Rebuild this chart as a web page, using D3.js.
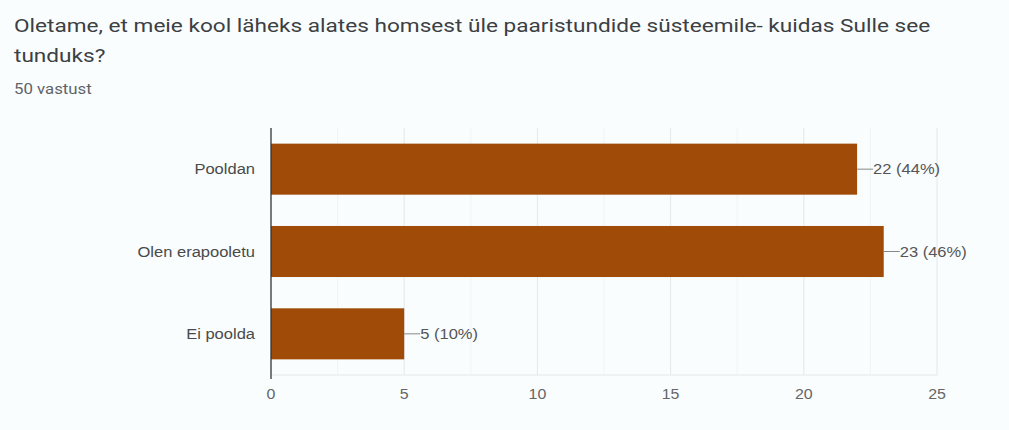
<!DOCTYPE html>
<html>
<head>
<meta charset="utf-8">
<script src="https://cdn.jsdelivr.net/npm/d3@7"></script>
<style>
  html, body { margin: 0; padding: 0; background: #f9fdfe; }
  svg { display: block; }
</style>
</head>
<body>
<div id="chart"></div>
<script>
const width = 1009,
      height = 430,
      bar_color = '#a04b08',
      bg_color = '#f9fdfe',
      label_font = 'Arial, "Liberation Sans", sans-serif',
      label_stretch = 1.14

const title_lines = ['Oletame, et meie kool läheks alates homsest üle paaristundide süsteemile- kuidas Sulle see', 'tunduks?']
const subtitle = '50 vastust'
const categories = ['Pooldan', 'Olen erapooletu', 'Ei poolda']
const counts = [22, 23, 5]
const percents = ['44%', '46%', '10%']
const x_ticks = [0, 5, 10, 15, 20, 25]
const minor_ticks = [2.5, 7.5, 12.5, 17.5, 22.5]

const margin = {left: 271, right: 72, top: 128, bottom: 55}

const svg = d3.select('#chart')
  .append('svg')
  .attr('width', width)
  .attr('height', height)

svg.append('rect')
  .attr('width', width)
  .attr('height', height)
  .attr('fill', bg_color)

// text stretched horizontally, like the screenshot
function stretched_text(parent, x, y, str, sx) {
  return parent.append('g')
    .attr('transform', `translate(${x},${y}) scale(${sx},1)`)
    .append('text')
    .text(str)
}

title_lines.forEach((line, i) => {
  stretched_text(svg, 14, 32 + i * 30, line, 1.19)
    .style('font-family', 'Roboto, sans-serif')
    .style('font-size', '19px')
    .style('fill', '#3c4043')
})

stretched_text(svg, 14, 94, subtitle, 1.2)
  .style('font-family', 'Roboto, sans-serif')
  .style('font-size', '14px')
  .style('fill', '#5f6368')

const x = d3.scaleLinear()
  .domain([0, 25])
  .range([margin.left, width - margin.right])

const y = d3.scaleBand()
  .domain(categories)
  .range([margin.top, height - margin.bottom])
  .paddingInner(0.38)
  .paddingOuter(0.19)

const plot = svg.append('g')

// gridlines
plot.selectAll('line.minor')
  .data(minor_ticks)
  .enter().append('line')
  .attr('x1', d => x(d)).attr('x2', d => x(d))
  .attr('y1', margin.top).attr('y2', height - margin.bottom)
  .style('stroke', '#f0f4f7')

plot.selectAll('line.grid')
  .data(x_ticks.slice(1))
  .enter().append('line')
  .attr('x1', d => x(d)).attr('x2', d => x(d))
  .attr('y1', margin.top).attr('y2', height - margin.bottom)
  .style('stroke', '#e3e8ec')

plot.append('line')
  .attr('x1', x(0)).attr('x2', x(25))
  .attr('y1', height - margin.bottom).attr('y2', height - margin.bottom)
  .style('stroke', '#e3e8ec')

// bars
plot.selectAll('rect.bar')
  .data(categories)
  .enter().append('rect')
  .attr('x', x(0))
  .attr('y', d => y(d))
  .attr('width', (d, i) => x(counts[i]) - x(0))
  .attr('height', y.bandwidth())
  .style('fill', bar_color)

// category labels
categories.forEach(d => {
  stretched_text(plot, x(0) - 16, y(d) + y.bandwidth() / 2, d, label_stretch)
    .attr('dy', '0.35em')
    .attr('text-anchor', 'end')
    .style('font-family', label_font)
    .style('font-size', '14.5px')
    .style('fill', '#4a4a4a')
})

// value labels with leader lines
plot.selectAll('line.lead')
  .data(categories)
  .enter().append('line')
  .attr('x1', (d, i) => x(counts[i]))
  .attr('x2', (d, i) => x(counts[i]) + 16)
  .attr('y1', d => y(d) + y.bandwidth() / 2)
  .attr('y2', d => y(d) + y.bandwidth() / 2)
  .style('stroke', '#888')

categories.forEach((d, i) => {
  stretched_text(plot, x(counts[i]) + 16, y(d) + y.bandwidth() / 2, `${counts[i]} (${percents[i]})`, label_stretch)
    .attr('dy', '0.35em')
    .style('font-family', label_font)
    .style('font-size', '14.5px')
    .style('fill', '#555')
})

// x axis tick labels
x_ticks.forEach(d => {
  stretched_text(plot, x(d), height - margin.bottom + 24, d, label_stretch)
    .attr('text-anchor', 'middle')
    .style('font-family', label_font)
    .style('font-size', '14px')
    .style('fill', '#666')
})

// y axis line
plot.append('line')
  .attr('x1', x(0)).attr('x2', x(0))
  .attr('y1', margin.top).attr('y2', height - margin.bottom + 4)
  .style('stroke', '#333')
  .style('stroke-width', 1.3)
</script>
</body>
</html>
